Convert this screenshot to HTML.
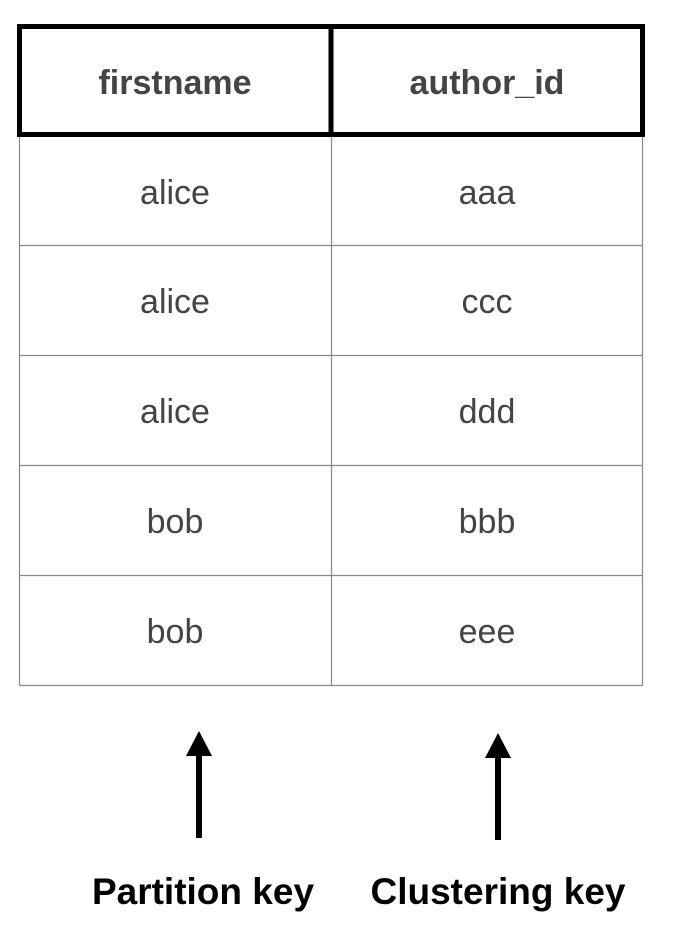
<!DOCTYPE html>
<html><head><meta charset="utf-8"><style>
html,body{margin:0;padding:0;background:#fff;}
svg{display:block;}
</style></head><body>
<svg width="677" height="936" viewBox="0 0 677 936" xmlns="http://www.w3.org/2000/svg">
<rect x="0" y="0" width="677" height="936" fill="#fff"/>
<g stroke="#888" stroke-width="1.2" fill="none">
<line x1="19.5" y1="135" x2="19.5" y2="685.5"/>
<line x1="642.5" y1="135" x2="642.5" y2="685.5"/>
<line x1="331.5" y1="135" x2="331.5" y2="685.5"/>
<line x1="19.5" y1="245.5" x2="642.5" y2="245.5"/>
<line x1="19.5" y1="355.5" x2="642.5" y2="355.5"/>
<line x1="19.5" y1="465.5" x2="642.5" y2="465.5"/>
<line x1="19.5" y1="575.5" x2="642.5" y2="575.5"/>
<line x1="19.5" y1="685.5" x2="642.5" y2="685.5"/>
</g>
<rect x="19.5" y="26.5" width="623" height="108" fill="none" stroke="#000" stroke-width="5"/>
<line x1="331" y1="26" x2="331" y2="135" stroke="#000" stroke-width="5"/>
<g font-family="Liberation Sans, sans-serif" font-size="34" fill="#444" text-anchor="middle">
<text x="175" y="94" font-weight="bold">firstname</text>
<text x="487" y="94" font-weight="bold">author_id</text>
<text x="175" y="204">alice</text><text x="487" y="204">aaa</text>
<text x="175" y="313">alice</text><text x="487" y="313">ccc</text>
<text x="175" y="423">alice</text><text x="487" y="423">ddd</text>
<text x="175" y="533">bob</text><text x="487" y="533">bbb</text>
<text x="175" y="643">bob</text><text x="487" y="643">eee</text>
</g>
<line x1="199" y1="754" x2="199" y2="838" stroke="#000" stroke-width="6"/>
<polygon points="199,731 186,756 212,756" fill="#000"/>
<line x1="498" y1="756" x2="498" y2="840" stroke="#000" stroke-width="6"/>
<polygon points="498,733 485,758 511,758" fill="#000"/>
<g font-family="Liberation Sans, sans-serif" font-size="37" font-weight="bold" fill="#000" text-anchor="middle">
<text x="203" y="904">Partition key</text>
<text x="498" y="904">Clustering key</text>
</g>
</svg>
</body></html>
